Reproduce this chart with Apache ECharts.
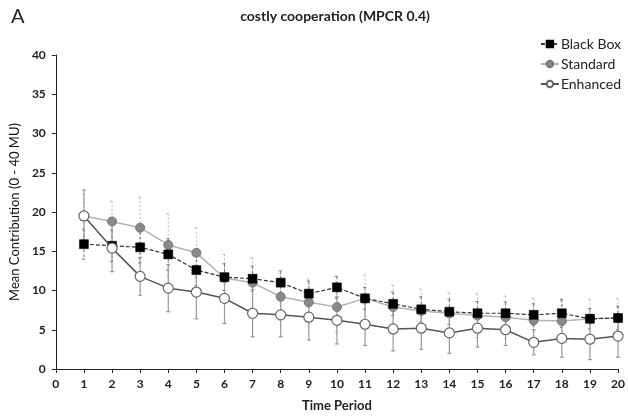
<!DOCTYPE html>
<html>
<head>
<meta charset="utf-8">
<script src="https://cdn.jsdelivr.net/npm/echarts@6/dist/echarts.min.js"></script>
<style>
  html, body { margin: 0; padding: 0; background: #fff; }
  #chart { width: 628px; height: 417px; }
</style>
</head>
<body>
<div id="chart"></div>
<script>
// time periods 1..20
const periods = [1,2,3,4,5,6,7,8,9,10,11,12,13,14,15,16,17,18,19,20];

const blackBox = [15.9,15.7,15.5,14.6,12.6,11.7,11.5,11.0,9.6,10.4,9.0,8.3,7.6,7.3,7.1,7.1,6.9,7.1,6.4,6.5];
const standard = [19.5,18.8,18.0,15.8,14.8,11.6,11.0,9.2,8.5,7.9,9.0,7.9,7.4,7.1,6.8,6.6,6.2,6.1,6.4,6.5];
const enhanced = [19.5,15.4,11.8,10.3,9.8,9.0,7.1,6.9,6.6,6.2,5.7,5.1,5.2,4.6,5.2,5.0,3.4,3.9,3.8,4.2];

// error bar half widths
const blackBoxErr = [1.9,2.0,2.0,2.0,2.0,1.7,1.6,1.5,1.6,1.4,1.4,1.5,1.6,1.6,1.5,1.4,1.4,1.8,1.3,1.5];
const standardErr = [2.8,2.6,3.9,4.0,3.2,3.0,3.2,3.0,3.0,3.2,3.0,2.8,2.8,2.6,2.8,2.7,2.8,2.6,2.5,2.5];
const enhancedErr = [3.3,3.0,2.4,3.0,3.4,3.2,3.0,2.8,2.9,3.0,2.7,2.8,2.7,2.6,2.4,2.0,1.6,2.4,2.6,2.7];

const xTicks = [0,20];
const yTicks = [0,40];

const font = 'Lato, "Open Sans", sans-serif';

function pairs(vals) {
  return periods.map((p, i) => [p, vals[i]]);
}
function errData(vals, errs) {
  return periods.map((p, i) => [p, vals[i], errs[i]]);
}

function errorSeries(name, vals, errs, style) {
  return {
    type: 'custom',
    name: name + ' err',
    z: 1,
    silent: true,
    data: errData(vals, errs),
    renderItem: function (params, api) {
      const x = api.value(0), y = api.value(1), e = api.value(2);
      const hi = api.coord([x, y + e]);
      const lo = api.coord([x, y - e]);
      const cap = 2;
      return {
        type: 'group',
        children: [
          { type: 'line', shape: { x1: hi[0], y1: hi[1], x2: lo[0], y2: lo[1] }, style: style },
          { type: 'line', shape: { x1: hi[0] - cap, y1: hi[1], x2: hi[0] + cap, y2: hi[1] }, style: style },
          { type: 'line', shape: { x1: lo[0] - cap, y1: lo[1], x2: lo[0] + cap, y2: lo[1] }, style: style }
        ]
      };
    }
  };
}

const chart = echarts.init(document.getElementById('chart'));

chart.setOption({
  animation: false,
  textStyle: { fontFamily: font },
  title: [
    {
      text: 'costly cooperation (MPCR 0.4)',
      left: 330, top: 4, textAlign: 'center',
      textStyle: { fontSize: 14, fontWeight: 'bold', color: '#222', fontFamily: font }
    },
    {
      text: 'A',
      left: 6, top: 2,
      textStyle: { fontSize: 20, fontWeight: 'normal', color: '#222', fontFamily: font }
    }
  ],
  legend: {
    orient: 'vertical',
    right: 2, top: 32,
    itemWidth: 18, itemHeight: 8, itemGap: 6,
    textStyle: { fontSize: 14, color: '#222', fontFamily: font, padding: [0, 0, 0, -3] },
    data: ['Black Box', 'Standard', 'Enhanced']
  },
  grid: { left: 54, right: 8, top: 55, bottom: 48 },
  xAxis: {
    type: 'value',
    min: xTicks[0], max: xTicks[1], interval: 1,
    name: 'Time Period',
    nameLocation: 'middle', nameGap: 30,
    nameTextStyle: { fontSize: 13, fontWeight: 'bold', color: '#222' },
    axisLine: { lineStyle: { color: '#222', width: 1 } },
    axisTick: { length: 4, lineStyle: { color: '#222' } },
    axisLabel: { fontSize: 12, fontWeight: 'bold', color: '#222', margin: 9 },
    splitLine: { show: false }
  },
  yAxis: {
    type: 'value',
    min: yTicks[0], max: yTicks[1], interval: 5,
    name: 'Mean Contribution (0 - 40 MU)',
    nameLocation: 'middle', nameGap: 34,
    nameTextStyle: { fontSize: 13, color: '#111' },
    axisLine: { show: true, lineStyle: { color: '#222', width: 1 } },
    axisTick: { show: true, length: 4, lineStyle: { color: '#222' } },
    axisLabel: { fontSize: 12, fontWeight: 'bold', color: '#222', margin: 10 },
    splitLine: { show: false }
  },
  series: [
    errorSeries('Standard', standard, standardErr, { stroke: '#bbb', lineWidth: 1, lineDash: [2, 2] }),
    errorSeries('Black Box', blackBox, blackBoxErr, { stroke: '#777', lineWidth: 1, lineDash: [3, 2] }),
    errorSeries('Enhanced', enhanced, enhancedErr, { stroke: '#999', lineWidth: 1.2 }),
    {
      name: 'Standard', type: 'line', z: 3,
      data: pairs(standard),
      symbol: 'circle', symbolSize: 9,
      lineStyle: { color: '#b4b4b4', width: 1.5 },
      itemStyle: { color: '#8a8a8a', borderColor: '#777', borderWidth: 1 }
    },
    {
      name: 'Black Box', type: 'line', z: 4,
      data: pairs(blackBox),
      symbol: 'rect', symbolSize: 9,
      lineStyle: { color: '#333', width: 1.2, type: [4, 2] },
      itemStyle: { color: '#000', borderColor: '#000', borderWidth: 0.5 }
    },
    {
      name: 'Enhanced', type: 'line', z: 5,
      data: pairs(enhanced),
      symbol: 'circle', symbolSize: 10,
      lineStyle: { color: '#555', width: 1.5 },
      itemStyle: { color: '#fff', borderColor: '#666', borderWidth: 1.2 }
    }
  ]
});
</script>
</body>
</html>
